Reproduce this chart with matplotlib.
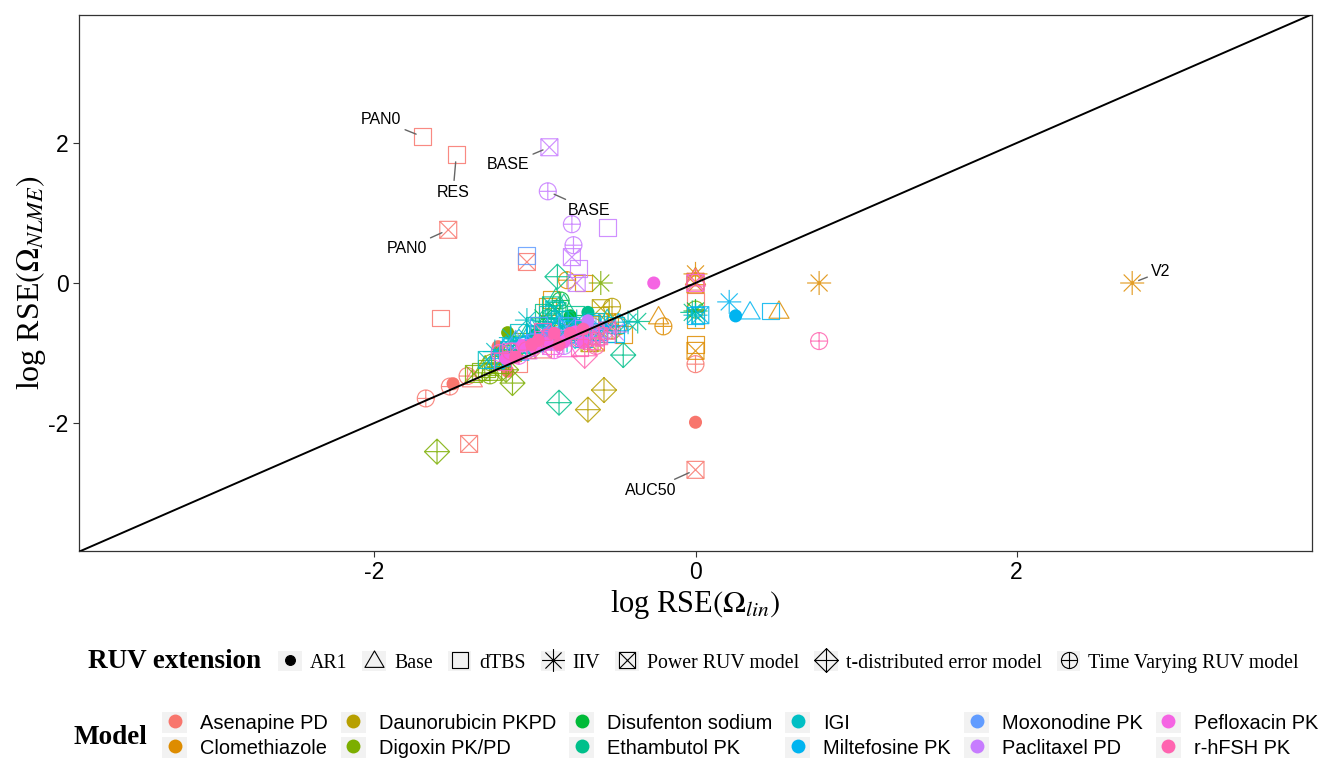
import matplotlib
matplotlib.use("Agg")
import matplotlib.pyplot as plt
from matplotlib.path import Path
from matplotlib.lines import Line2D
from matplotlib.patches import Rectangle
from matplotlib.legend_handler import HandlerLine2D

plt.rcParams["font.family"] = ["Liberation Sans", "DejaVu Sans"]
plt.rcParams["mathtext.fontset"] = "stix"
plt.rcParams["axes.unicode_minus"] = False

# model names (legend order) and ggplot hue colours
models = ["Asenapine PD", "Clomethiazole", "Daunorubicin PKPD", "Digoxin PK/PD",
          "Disufenton sodium", "Ethambutol PK", "IGI", "Miltefosine PK",
          "Moxonodine PK", "Paclitaxel PD", "Pefloxacin PK", "r-hFSH PK"]
colors = ["#F8766D", "#DE8C00", "#B79F00", "#7CAE00", "#00BA38", "#00C08B",
          "#00BFC4", "#00B4F0", "#619CFF", "#C77CFF", "#F564E3", "#FF64B0"]

ruv_codes = ["AR1", "Base", "dTBS", "IIV", "Power", "tdist", "TV"]
ruv_labels = ["AR1", "Base", "dTBS", "IIV", "Power RUV model",
              "t-distributed error model", "Time Varying RUV model"]

# (log RSE lin, log RSE NLME, RUV extension) per model
asenapine = [
    (-1.70, 2.09, "dTBS"), (-1.49, 1.83, "dTBS"), (-1.54, 0.76, "Power"),
    (-1.05, 0.30, "Power"), (-1.59, -0.50, "dTBS"), (-1.41, -2.30, "Power"),
    (0.00, -2.67, "Power"), (0.00, -1.99, "AR1"), (0.00, -1.16, "TV"),
    (0.00, -0.27, "dTBS"), (0.00, 0.02, "Power"),
    (-1.68, -1.65, "TV"), (-1.53, -1.48, "TV"), (-1.51, -1.44, "AR1"),
    (-1.42, -1.33, "TV"), (-1.39, -1.38, "Base"), (-1.23, -0.91, "AR1"),
    (-1.17, -1.26, "AR1"), (-1.10, -1.15, "dTBS"), (-0.95, -0.95, "Power"),
    (-0.72, -0.80, "TV"),
]
clomethiazole = [
    (2.72, 0.00, "IIV"), (0.77, 0.00, "IIV"), (0.52, -0.40, "Base"),
    (-0.23, -0.48, "Base"), (-0.20, -0.62, "TV"),
    (0.00, 0.13, "IIV"), (0.00, 0.08, "Base"), (0.00, -0.02, "Power"),
    (0.00, -0.52, "dTBS"), (0.00, -0.88, "dTBS"), (0.00, -0.97, "Power"),
    (-0.80, 0.04, "TV"), (-0.70, 0.00, "dTBS"), (-0.90, -0.24, "dTBS"),
    (-0.92, -0.34, "dTBS"), (-0.48, -0.62, "TV"), (-0.45, -0.74, "dTBS"),
    (-0.64, -0.62, "TV"), (-0.55, -0.56, "Power"), (-0.78, -0.70, "dTBS"),
    (-1.00, -0.80, "Base"), (-0.62, -0.85, "Power"),
]
daunorubicin = [
    (-0.67, -1.81, "tdist"), (-0.57, -1.53, "tdist"), (-0.59, -0.36, "Power"),
    (-0.52, -0.34, "TV"), (-0.60, -0.47, "dTBS"), (-0.66, -0.86, "Power"),
    (-0.85, -0.72, "TV"), (-1.05, -0.95, "dTBS"), (-0.75, -0.62, "Base"),
    (-0.52, -0.68, "TV"),
]
digoxin = [
    (-1.61, -2.41, "tdist"), (-1.14, -1.43, "tdist"), (-0.59, 0.00, "IIV"),
    (-1.17, -0.71, "AR1"), (-1.30, -1.22, "dTBS"), (-1.26, -1.27, "Power"),
    (-1.31, -1.18, "Base"), (-1.27, -1.14, "TV"), (-1.22, -1.17, "dTBS"),
    (-1.20, -1.08, "Power"), (-1.18, -1.24, "tdist"), (-1.24, -1.06, "Base"),
    (-1.14, -1.00, "dTBS"), (-1.12, -0.95, "TV"), (0.00, -0.38, "TV"),
    (-1.34, -1.26, "dTBS"), (-1.10, -0.83, "dTBS"), (-1.38, -1.30, "Power"),
    (-1.28, -1.32, "TV"),
]
disufenton = [
    (-0.84, -0.25, "TV"), (-1.00, -0.74, "AR1"), (-0.86, -0.68, "Base"),
    (-0.95, -0.50, "IIV"), (-0.70, -0.58, "dTBS"), (-1.08, -0.88, "Power"),
    (-0.78, -0.47, "AR1"), (0.00, -0.40, "IIV"), (-0.90, -0.62, "dTBS"),
    (-0.75, -0.65, "Power"),
]
ethambutol = [
    (-0.85, -1.71, "tdist"), (-0.86, 0.09, "tdist"), (-0.45, -1.03, "tdist"),
    (-0.67, -0.42, "AR1"), (-0.36, -0.55, "IIV"), (-0.87, -0.22, "Base"),
    (-0.90, -0.32, "Power"), (-0.02, -0.42, "IIV"), (-0.95, -0.42, "dTBS"),
    (-0.80, -0.52, "TV"), (-0.86, -0.40, "Power"), (-1.05, -0.72, "Base"),
    (-0.55, -0.72, "dTBS"), (-0.75, -0.45, "dTBS"), (-0.92, -0.50, "TV"),
    (-1.00, -0.60, "dTBS"), (-0.82, -0.30, "Base"),
]
igi = [
    (-1.05, -0.53, "IIV"), (-0.84, -0.63, "IIV"), (-0.97, -0.62, "IIV"),
    (-0.74, -0.55, "IIV"), (-1.12, -0.86, "IIV"), (-1.16, -0.96, "Power"),
    (-1.00, -0.72, "dTBS"), (-0.90, -0.68, "dTBS"), (-0.80, -0.73, "Power"),
    (-0.60, -0.62, "IIV"), (-0.42, -0.56, "IIV"), (-1.22, -1.06, "dTBS"),
    (-1.05, -0.90, "Base"), (0.00, -0.46, "IIV"), (-0.70, -0.80, "TV"),
    (-0.92, -0.45, "dTBS"), (-0.88, -0.38, "Power"), (-1.10, -0.70, "dTBS"),
    (-0.65, -0.70, "dTBS"), (-1.25, -0.98, "IIV"), (-0.95, -0.82, "TV"),
    (-0.55, -0.52, "Base"), (-0.78, -0.60, "dTBS"), (-1.15, -0.78, "IIV"),
    (-0.98, -0.75, "Power"), (-0.85, -0.52, "dTBS"), (-0.72, -0.68, "Power"),
    (-0.62, -0.55, "dTBS"), (-1.02, -0.66, "Base"), (-0.50, -0.60, "dTBS"),
    (-1.30, -1.10, "Power"), (-1.18, -0.90, "Base"), (-0.90, -0.58, "IIV"),
    (-0.68, -0.60, "Base"), (-0.80, -0.82, "IIV"),
]
miltefosine = [
    (0.21, -0.27, "IIV"), (0.25, -0.47, "AR1"), (0.34, -0.41, "Base"),
    (0.47, -0.40, "dTBS"), (0.00, -0.47, "dTBS"), (0.03, -0.46, "Power"),
    (-0.74, -0.66, "Base"), (-0.70, -0.79, "dTBS"), (-0.90, -0.80, "IIV"),
    (-1.10, -1.00, "Base"), (-1.20, -1.08, "IIV"), (-0.60, -0.70, "Power"),
    (-0.55, -0.63, "IIV"), (-0.48, -0.58, "Base"), (-0.85, -0.58, "Base"),
    (-1.00, -0.86, "Power"), (-0.95, -0.70, "dTBS"), (-1.05, -0.78, "IIV"),
    (-0.80, -0.66, "Power"), (-0.65, -0.58, "dTBS"), (-1.15, -0.92, "Power"),
    (-0.50, -0.72, "dTBS"), (-1.25, -1.12, "Base"),
]
moxonodine = [
    (-1.05, 0.39, "dTBS"), (-0.92, -0.71, "AR1"), (-1.00, -0.86, "Power"),
    (-1.10, -0.96, "dTBS"), (-0.85, -0.78, "Base"), (-0.75, -0.74, "TV"),
    (-0.62, -0.66, "IIV"), (-0.98, -0.60, "dTBS"), (-0.80, -0.62, "Power"),
    (-1.12, -0.82, "Base"),
]
paclitaxel = [
    (-0.91, 1.94, "Power"), (-0.92, 1.31, "TV"), (-0.55, 0.79, "dTBS"),
    (-0.77, 0.84, "TV"), (-0.76, 0.54, "TV"), (-0.77, 0.37, "Power"),
    (-0.73, 0.21, "dTBS"), (-0.74, 0.00, "Power"), (-0.67, -0.54, "AR1"),
    (-0.85, -0.80, "Power"), (-1.05, -0.92, "dTBS"), (-0.50, -0.70, "IIV"),
    (-0.95, -0.85, "Base"), (-0.60, -0.78, "TV"), (-0.70, -0.65, "dTBS"),
    (-0.62, -0.72, "Power"), (-0.82, -0.90, "TV"),
]
pefloxacin = [
    (-0.26, 0.00, "AR1"), (-1.00, -0.93, "AR1"), (-0.82, -0.84, "AR1"),
    (-1.10, -1.04, "TV"), (-0.90, -0.90, "Power"), (-0.70, -0.78, "dTBS"),
    (-1.18, -1.08, "AR1"), (-0.95, -0.80, "dTBS"), (-0.75, -0.70, "AR1"),
    (-1.05, -0.98, "Base"), (-0.88, -0.96, "TV"), (-0.65, -0.75, "Power"),
    (-1.15, -0.98, "dTBS"), (0.00, 0.00, "Power"), (-1.08, -0.90, "AR1"),
    (-0.92, -0.86, "AR1"), (-0.70, -0.85, "AR1"), (-1.22, -1.00, "TV"),
    (-0.80, -0.95, "Base"),
]
rhfsh = [
    (0.77, -0.83, "TV"), (-0.69, -1.04, "tdist"), (0.00, 0.06, "Base"),
    (-0.98, -0.82, "AR1"), (-0.78, -0.72, "AR1"), (-1.12, -1.06, "AR1"),
    (-0.90, -0.78, "dTBS"), (-0.60, -0.76, "Power"), (-0.62, -0.90, "TV"),
    (-1.05, -0.96, "TV"), (-0.85, -0.88, "AR1"), (-1.20, -1.12, "dTBS"),
    (-0.70, -0.66, "AR1"), (-0.95, -0.70, "Power"), (-0.72, -0.92, "dTBS"),
    (-1.02, -0.88, "AR1"), (-0.88, -0.72, "AR1"), (-1.15, -0.98, "TV"),
    (-0.65, -0.82, "dTBS"), (-0.55, -0.68, "Power"),
]
model_points = [asenapine, clomethiazole, daunorubicin, digoxin, disufenton,
                ethambutol, igi, miltefosine, moxonodine, paclitaxel,
                pefloxacin, rhfsh]

# labelled parameters: text, text position, labelled point
labels = [("PAN0", (-1.96, 2.33), (-1.70, 2.09)),
          ("RES", (-1.51, 1.30), (-1.49, 1.83)),
          ("BASE", (-1.17, 1.69), (-0.91, 1.94)),
          ("BASE", (-0.66, 1.04), (-0.92, 1.31)),
          ("PAN0", (-1.80, 0.49), (-1.54, 0.76)),
          ("AUC50", (-0.28, -2.96), (0.00, -2.67)),
          ("V2", (2.90, 0.16), (2.72, 0.00))]

# ---- marker shapes (ggplot shapes 16, 2, 0, 8, 7, 9, 10)
M, L = Path.MOVETO, Path.LINETO


def segs(pairs):
    verts, codes = [], []
    for a, b in pairs:
        verts += [a, b]
        codes += [M, L]
    return Path(verts, codes)


d = 0.7071
plus = segs([((-1, 0), (1, 0)), ((0, -1), (0, 1))])
cross = segs([((-1, -1), (1, 1)), ((-1, 1), (1, -1))])
square = Path([(-1, -1), (1, -1), (1, 1), (-1, 1), (-1, -1)], closed=True)
diamond = Path([(0, 1), (1, 0), (0, -1), (-1, 0), (0, 1)], closed=True)
triangle = Path([(-1, -0.72), (1, -0.72), (0, 1), (-1, -0.72)], closed=True)
asterisk = segs([((-1, 0), (1, 0)), ((0, -1), (0, 1)),
                 ((-d, -d), (d, d)), ((-d, d), (d, -d))])

shape = {"AR1": "o", "Base": triangle, "dTBS": square, "IIV": asterisk,
         "Power": Path.make_compound_path(square, cross),
         "tdist": Path.make_compound_path(diamond, plus),
         "TV": Path.make_compound_path(Path.unit_circle(), plus)}
size = {"AR1": 9.4, "Base": 14.5, "dTBS": 12.2, "IIV": 17.3,
        "Power": 12.2, "tdist": 18.0, "TV": 12.2}

W, H = 1320, 758
fig = plt.figure(figsize=(W / 100, H / 100), dpi=100)
ax = fig.add_axes([79 / W, 1 - 551 / H, (1312 - 79) / W, (551 - 15) / H])

for pts, col in zip(model_points, colors):
    for r in ruv_codes:
        xs = [p[0] for p in pts if p[2] == r]
        ys = [p[1] for p in pts if p[2] == r]
        if not xs:
            continue
        if r == "AR1":
            ax.scatter(xs, ys, marker="o", s=size[r] ** 2, color=col,
                       edgecolors="none", zorder=2)
        else:
            ax.scatter(xs, ys, marker=shape[r], s=size[r] ** 2,
                       facecolors="none", edgecolors=col, linewidths=0.85,
                       alpha=0.85, zorder=2)

lim = (-3.84, 3.84)
ax.plot(lim, lim, color="black", lw=1.4, zorder=3)

for txt, tpos, pt in labels:
    ax.annotate(txt, xy=pt, xytext=tpos, fontsize=11.5, ha="center",
                va="center", zorder=4,
                arrowprops=dict(arrowstyle="-", color="#666666", lw=1,
                                shrinkA=1, shrinkB=5))

ax.set_xlim(lim)
ax.set_ylim(-3.83, 3.83)
ax.set_xticks([-2, 0, 2])
ax.set_yticks([-2, 0, 2])
ax.tick_params(direction="out", length=4, width=0.8, color="#333333",
               labelsize=16.5, labelcolor="black")
for sp in ax.spines.values():
    sp.set_color("#333333")
    sp.set_linewidth(0.9)

ax.set_xlabel(r"log RSE$\left(\Omega_{lin}\right)$", family="Liberation Serif",
              fontsize=22, va="center")
ax.xaxis.set_label_coords(0.5, -0.10)
ax.set_ylabel(r"log RSE$\left(\Omega_{NLME}\right)$", family="Liberation Serif",
              fontsize=23, va="center")
ax.yaxis.set_label_coords(-0.039, 0.5)


# legend keys with the grey ggplot key background
class KeyHandler(HandlerLine2D):
    def create_artists(self, legend, orig_handle, xdescent, ydescent,
                       width, height, fontsize, trans):
        arts = super().create_artists(legend, orig_handle, xdescent, ydescent,
                                      width, height, fontsize, trans)
        bg = Rectangle((-xdescent, -ydescent), width, height,
                       facecolor="#F2F2F2", edgecolor="none", transform=trans)
        return [bg] + list(arts)


ruv_handles = []
for r in ruv_codes:
    filled = r == "AR1"
    ruv_handles.append(Line2D([], [], ls="none", marker=shape[r],
                              markersize=size[r] * (0.75 if filled else 0.95),
                              mfc="black" if filled else "none",
                              mec="black", mew=0.8))
fig.text(88 / W, 1 - 662 / H, "RUV extension", family="Liberation Serif",
         weight="bold", fontsize=19.5, va="center", ha="left")
fig.legend(ruv_handles, ruv_labels, loc="center left",
           bbox_to_anchor=(278 / W, 1 - 662 / H), ncol=7, frameon=False,
           handler_map={Line2D: KeyHandler(numpoints=1)},
           handlelength=1.2, handleheight=1.2, handletextpad=0.4,
           columnspacing=0.75, borderpad=0, borderaxespad=0,
           prop={"family": "Liberation Serif", "size": 14.3})

model_handles = [Line2D([], [], ls="none", marker="o", markersize=10,
                        mfc=c, mec="none") for c in colors]
fig.text(74 / W, 1 - 737 / H, "Model", family="Liberation Serif",
         weight="bold", fontsize=19.5, va="center", ha="left")
fig.legend(model_handles, models, loc="center left",
           bbox_to_anchor=(162 / W, 1 - 735 / H), ncol=6, frameon=False,
           handler_map={Line2D: KeyHandler(numpoints=1)},
           handlelength=1.25, handleheight=1.2, handletextpad=0.65,
           columnspacing=0.65, labelspacing=0.2, borderpad=0, borderaxespad=0,
           prop={"family": "Liberation Sans", "size": 14.4})

fig.savefig("out.png", dpi=100)
